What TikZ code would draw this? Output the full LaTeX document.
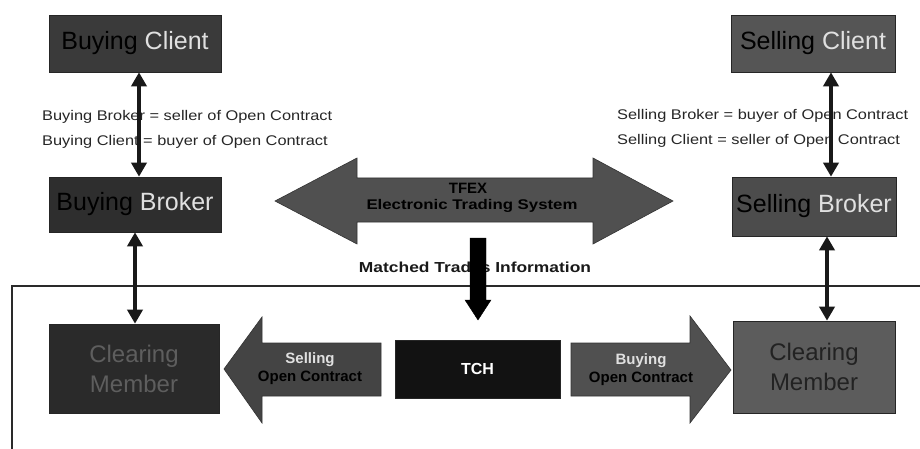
\documentclass[tikz,border=0pt]{standalone}
\usepackage{fontspec}
\setmainfont{Liberation Sans}
\newfontfamily\labfont[FakeStretch=1.17]{Liberation Sans}
\newfontfamily\midfont[FakeStretch=1.2]{Liberation Sans}
\usetikzlibrary{arrows.meta}
\definecolor{bcfill}{HTML}{3A3A3A}
\definecolor{bbfill}{HTML}{2E2E2E}
\definecolor{cmlfill}{HTML}{2A2A2A}
\definecolor{cmltext}{HTML}{5E5E5E}
\definecolor{tchfill}{HTML}{121212}
\definecolor{scfill}{HTML}{555555}
\definecolor{sbfill}{HTML}{4C4C4C}
\definecolor{cmrfill}{HTML}{5C5C5C}
\definecolor{cmrtext}{HTML}{222222}
\definecolor{lighttext}{HTML}{E0E0E0}
\definecolor{darktext}{HTML}{000000}
\definecolor{tfexfill}{HTML}{505050}
\definecolor{sellfill}{HTML}{444444}
\definecolor{buyfill}{HTML}{505050}
\definecolor{framecol}{HTML}{2A2A2A}
\begin{document}
\begin{tikzpicture}[x=1pt,y=-1pt,
  box/.style={draw=black!85, line width=0.6pt, inner sep=0pt, align=center,
    font=\fontsize{25}{28}\selectfont},
  dbl/.style={line width=3.5pt, draw=black!90,
    {Triangle[width=15pt,length=14pt]}-{Triangle[width=15pt,length=14pt]}},
  blockarrow/.style={draw=black!80, line width=0.6pt},
  lab/.style={inner sep=0pt, align=left, font=\labfont\fontsize{14}{25}\selectfont, text=black!85},
  arrtext/.style={inner sep=0pt, align=center, font=\bfseries\fontsize{15}{16.5}\selectfont}
]
\useasboundingbox (0,0) rectangle (920,449);
\fill[white] (0,0) rectangle (920,449);

% frame of the clearing house area
\draw[line width=1.6pt, framecol] (12,449) -- (12,286) -- (920,286);

% boxes
\node[box, fill=bcfill, minimum width=172, minimum height=57] (bc) at (135,43.5)
  {{\color{darktext}Buying} {\color{lighttext}Client}};
\node[box, fill=bbfill, minimum width=172, minimum height=55] (bb) at (135,204.5)
  {{\color{darktext}Buying} {\color{lighttext}Broker}};
\node[box, fill=cmlfill, minimum width=170, minimum height=89, text=cmltext,
  font=\fontsize{24}{30}\selectfont] (cml) at (134,368.5) {Clearing\\Member};
\node[box, fill=tchfill, minimum width=165, minimum height=58, text=white,
  font=\bfseries\fontsize{16}{18}\selectfont] (tch) at (477.5,369) {TCH};
\node[box, fill=scfill, minimum width=164, minimum height=57] (sc) at (813,43.5)
  {{\color{darktext}Selling} {\color{lighttext}Client}};
\node[box, fill=sbfill, minimum width=164, minimum height=59] (sb) at (814,206.5)
  {{\color{darktext}Selling} {\color{lighttext}Broker}};
\node[box, fill=cmrfill, minimum width=162, minimum height=92, text=cmrtext,
  font=\fontsize{24}{30}\selectfont] (cmr) at (814,367) {Clearing\\Member};

% side labels
\node[lab, anchor=west] (labl) at (42,129.5)
  {Buying Broker = seller of Open Contract\\Buying Client = buyer of Open Contract};
\node[lab, anchor=west] (labr) at (617,128.5)
  {Selling Broker = buyer of Open Contract\\Selling Client = seller of Open Contract};

% vertical connectors
\coordinate (xa) at (139,0);
\coordinate (xb) at (135,0);
\coordinate (xc) at (831,0);
\coordinate (xd) at (827,0);
\draw[dbl] (bc.south -| xa) -- (bb.north -| xa);
\draw[dbl] (bb.south -| xb) -- (cml.north -| xb);
\draw[dbl] (sc.south -| xc) -- (sb.north -| xc);
\draw[dbl] (sb.south -| xd) -- (cmr.north -| xd);

% TFEX double block arrow
\filldraw[blockarrow, fill=tfexfill] (275,201) -- (357,158) -- (357,178) -- (593,178)
  -- (593,158) -- (673,201) -- (593,244) -- (593,222) -- (357,222) -- (357,244) -- cycle;
\node[inner sep=0pt, text=darktext, font=\bfseries\fontsize{15}{16}\selectfont] (tfex) at (468,188)
  {TFEX};
\node[inner sep=0pt, text=darktext, font=\midfont\bfseries\fontsize{14}{16}\selectfont] (ets) at (472,206)
  {Electronic Trading System};

% matched trades
\node[inner sep=0pt, text=black!90, font=\midfont\bfseries\fontsize{14.5}{16}\selectfont] (mti) at (475,267)
  {Matched Trades Information};
\filldraw[fill=black, draw=black] (470,238) -- (486,238) -- (486,300) -- (491,300)
  -- (478,320) -- (465,300) -- (470,300) -- cycle;

% selling open contract arrow (to the left)
\filldraw[blockarrow, fill=sellfill] (224,369) -- (262,317) -- (262,343) -- (381,343)
  -- (381,396) -- (262,396) -- (262,423) -- cycle;
\node[arrtext, text=lighttext] (soc1) at (310,360) {Selling};
\node[arrtext, text=darktext] (soc2) at (310,378) {Open Contract};

% buying open contract arrow (to the right)
\filldraw[blockarrow, fill=buyfill] (571,343) -- (690,343) -- (690,316) -- (731,370)
  -- (690,423) -- (690,396) -- (571,396) -- cycle;
\node[arrtext, text=lighttext] (boc1) at (641,361) {Buying};
\node[arrtext, text=darktext] (boc2) at (641,379) {Open Contract};
\end{tikzpicture}
\end{document}
